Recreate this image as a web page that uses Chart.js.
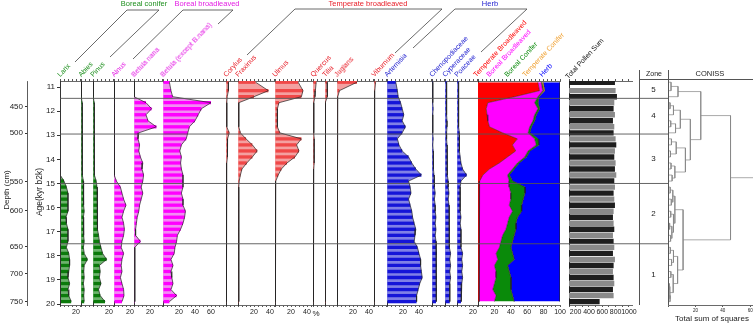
<!DOCTYPE html>
<html lang="en">
<head>
<meta charset="UTF-8">
<title>Pollen diagram</title>
<script src="https://cdn.jsdelivr.net/npm/chart.js"></script>
<style>
  body { margin: 0; background: #fff; }
  #page { position: relative; width: 753px; height: 326px; overflow: hidden; font-family: 'Liberation Sans', Arial, sans-serif; color: #222; }
  #page canvas { position: absolute; }
  .lbl { position: absolute; white-space: nowrap; font-size: 7px; line-height: 7px; transform-origin: 0 100%; transform: rotate(-47deg); }
  .hdr { position: absolute; top: 0; white-space: nowrap; font-size: 7.5px; line-height: 8px; transform: translateX(-50%); }
  .txt { position: absolute; white-space: nowrap; transform: translate(-50%, -50%); }
  .vt { position: absolute; white-space: nowrap; transform: translate(-50%, -50%) rotate(-90deg); }
  .rule { position: absolute; background: #555; }
  svg { position: absolute; left: 0; top: 0; }
</style>
</head>
<body>
<div id="page">
  <svg width="753" height="90">
    <g fill="none" stroke="#444" stroke-width="0.8">
      <polyline points="75,62 127,10 159,10 110,57"/>
      <polyline points="133,59 183,10 233,10 218,24"/>
      <polyline points="247,55 295,9 442,9 395,53"/>
      <polyline points="413,48 455,9 527,9 481,52"/>
    </g>
  </svg>
</div>

<script>
// sample ages (kyr b2k), one row per sample
const ages = [10.8, 11.15, 11.4, 11.65, 11.9, 12.15, 12.4, 12.65, 12.9,
  13.15, 13.4, 13.65, 13.9, 14.15, 14.4, 14.65, 14.9, 15.15,
  15.4, 15.65, 15.9, 16.15, 16.4, 16.65, 16.9, 17.15, 17.4,
  17.65, 17.9, 18.15, 18.4, 18.65, 18.9, 19.15, 19.4, 19.65,
  19.9];

// taxa percentages
const larix = [0,0,0,0.3,0.3,0.3,0.3,0.3,0.3, 0.3,0.3,0.3,0.3,0.3,0.3,0.3,5,8, 10,10,10,10,7.5,8,10,10,10, 8,11,12,12,11,10,12,10,11, 14];
const abies = [0,0,0.5,1.5,1.5,2,1.5,1.5,2, 1.5,1.5,1.5,2,1.5,1.5,2,3,3.5, 3,3.5,3,4,3,3.5,3,3.5,4, 3,4,8,4,3.5,4,3,4,3.5, 4];
const pinus = [0,0,0.5,1.5,2,1.5,2,1.5,2, 1.5,2,1.5,2,2,1.5,2,4,5, 6,5,6,5,6,5,6,7,8, 10,12,17,8,9,8,10,7,9, 15];
const alnus = [0,0,0,0.3,0.3,0.3,0.3,0.3,0.3, 0.3,0.3,0.3,0.3,0.3,0.3,0.3,3,8, 10,12,15,12,10,12,13,12,10, 9,12,10,9,10,8,10,12,12.5, 10];
const betulaNana = [0,0,0,15,22,15,17.5,28,6, 5,7,6,8,11,10,12,11,9, 11,9,7,6,4,3,2,2,8, 1,1,1,1,1,1,1,1,1, 1];
const betula = [8,10,12,60,48,44,40,33,31, 29,23,21,23,22,23,25,25,25, 23,25,25,28,27,25,22,18,17, 15,14,10,12.5,10,11,12.5,10,17, 8];
const corylus = [3,3,1.5,1,1,1,1,1,4, 2,2,2,1.5,1,0.8,0.8,0.5,0.5, 0.5,0.5,0.5,0.5,0.5,0.5,0.5,0.5,0.5, 0.5,0.5,0.5,0.5,0.5,0.5,0.5,0.5,0.5, 0.5];
const fraxinus = [22,38,20,1,1,1,1,1,3, 10,18,24,18,11,5,3,1.5,1, 1,1,1,1,1,1,1,1,1, 1,1,1,1,1,1,1,1,1, 1];
const ulmus = [29,35,33,5,3,3,3,3,6, 33,27,30,25,15,8,4,1,0.5, 0.5,0.5,0.5,0.5,0.5,0.5,0.5,0.5,0.5, 0.5,0.5,0.5,0.5,0.5,0.5,0.5,0.5,0.5, 0.5];
const quercus = [4,3,2.5,1,1,1,1,1,1, 1.5,1.5,1.5,1.5,1.5,1,1,0.5,0.5, 0.5,0.5,0.5,0.5,0.5,0.5,0.5,0.5,0.5, 0.5,0.5,0.5,0.5,0.5,0.5,0.5,0.5,0.5, 0.5];
const tilia = [2.5,3.5,2.5,0.3,0.3,0.3,0.3,0.3,0.3, 0.3,0.3,0.3,0.3,0.3,0.3,0.3,0.3,0.3, 0.3,0.3,0.3,0.3,0.3,0.3,0.3,0.3,0.3, 0.3,0.3,0.3,0.3,0.3,0.3,0.3,0.3,0.3, 0.3];
const juglans = [25,3,1,0,0,0,0,0,0, 0.5,0.5,0.5,0.3,0,0,0,0,0, 0,0,0,0,0,0,0,0,0, 0,0,0,0,0,0,0,0,0, 0];
const viburnum = [2,1,1,0.5,0.5,0.5,0.5,0.5,0.5, 0.5,0.5,0.5,0.5,0.5,0.5,0.5,0.5,0.5, 0.5,0.5,0.5,0.5,0.5,0.5,0.5,0.5,0.5, 0.5,0.5,0.5,0.5,0.5,0.5,0.5,0.5,0.5, 0.5];
const artemisia = [11,13,14,17,19,21,19,23,19, 13,15,19,27,31,36,43,27,29, 30,27,29,31,32,34,36,35,34, 38,40,42,42,43,44,41,39,37, 37];
const chenopodiaceae = [1,1,1,1,1.5,1,1,1,1, 1.5,1,1.5,1.5,2,2,2.5,3,3, 4,3,4,4,5,4,5,4,5, 5,6,5,6,5,6,5,6,5, 5];
const cyperaceae = [2,2,2,2,2,2,2.5,2.5,2, 2,2.5,2.5,3,3,3,3,4,4, 5,4,5,5,5,5,6,5,6, 6,7,6,7,6,7,6,6,6, 6];
const poaceae = [2,2,2,2,2,2,2,2,3, 3,3,3,4,5,7,12,5,4, 4,4,4,4,5,4,5,5,5, 5,7,6,7,6,7,6,6,5, 5];

// ecological groups (sum to 100)
const tempBroad = [73,75,45,12,10,11,12,14,30, 48,42,46,36,26,14,6,2,1.5, 1.5,1.5,1.5,1.5,1.5,1.5,1.5,1.5,1.5, 1.5,1.5,1.5,1.5,1.5,1.5,1.5,1.5,1.5, 1.5];
const borealBroad = [4,4,28,57,63,58,55,49,31, 21,29,15,21,22,28,30,36,36.5, 38.5,38.5,36.5,40.5,36.5,34.5,32.5,28.5,26.5, 24.5,20.5,22.5,18.5,20.5,20.5,18.5,16.5,20.5, 18.5];
const borealConifer = [1,1,1,4,2,2,2,2,2, 4,3,2,2,2,2,2,4,19, 17,15,15,11,10,10,12,14,14, 14,20,20,16,16,18,20,22,20, 24];
const tempConifer = [1.5,1.5,0.5,0.3,0.3,0.3,0.3,0.3,0.3, 0.3,0.3,0.3,0.3,0.3,0.3,0.3,0.3,0.3, 0.3,0.3,0.3,0.3,0.3,0.3,0.3,0.3,0.3, 0.3,0.3,0.3,0.3,0.3,0.3,0.3,0.3,0.3, 0.3];
const herb = [20.5,18.5,25.5,26.7,24.7,28.7,30.7,34.7,36.7, 26.7,25.7,36.7,40.7,49.7,55.7,61.7,57.7,42.7, 42.7,44.7,46.7,46.7,51.7,53.7,53.7,55.7,57.7, 59.7,57.7,55.7,63.7,61.7,59.7,59.7,59.7,57.7, 55.7];

const pollenSum = [790,800,820,780,770,790,760,780,770, 800,810,790,780,800,790,810,780,790, 770,780,790,770,760,770,780,760,770, 780,760,790,770,760,770,780,760,770, 560];

// axes
const ageTicks = [11, 12, 13, 14, 15, 16, 17, 18, 19, 20];
const depthLabels = [450, 500, 550, 600, 650, 700, 750];
const depthAges = [11.82, 12.91, 14.92, 16.13, 17.63, 18.75, 19.91];
const zoneBounds = [11.47, 12.95, 15.0, 17.5];
const zoneNames = ['5', '4', '3', '2', '1'];

// CONISS tree: [height, left, right], leaves are sample indices
const coniss = [45.6,
  [23.9, [7.3, [2.2, 0, 1], 2],
    [16.3, [9, [4, [1.5, 3, 4], 5], [5.5, [2, 6, 7], 8]],
      [12.7, [6, [2.5, 9, 10], [1.8, 11, 12]], [5, [2.2, 13, 14], [3, 15, 16]]]]],
  [11, [5, [3.5, [1.6, 17, 18], [2.4, 19, 20]], [4, [2, 21, 22], [2.8, [1.2, 23, 24], [1.9, 25, 26]]]],
    [7, [4, [1.7, 27, 28], [2.6, 29, 30]], [3.8, [2.1, 31, 32], [1.4, [1, 33, 34], [1.5, 35, 36]]]]]];

const AGE_MIN = 10.75, AGE_MAX = 20.04;
const TOP = 75, H = 250;
const PX_PER_PCT = 0.8;

const palette = {
  green:   { light: '#6db36d', strong: '#0b7a0b', text: '#1d8f1d' },
  magenta: { light: '#f28cf2', strong: '#ff00ff', text: '#e41ee4' },
  red:     { light: '#f4a0a0', strong: '#f04848', text: '#e8202a' },
  blue:    { light: '#8080e6', strong: '#1515d8', text: '#2323d0' }
};

const panels = [
  { label: 'Larix', values: larix, x: 60, w: 21, col: 'green' },
  { label: 'Abies', values: abies, x: 81, w: 12, col: 'green' },
  { label: 'Pinus', values: pinus, x: 93, w: 21, col: 'green' },
  { label: 'Alnus', values: alnus, x: 114, w: 20, col: 'magenta' },
  { label: 'Betula nana', values: betulaNana, x: 134, w: 29, col: 'magenta' },
  { label: 'Betula (except B.nana)', values: betula, x: 163, w: 63, col: 'magenta' },
  { label: 'Corylus', values: corylus, x: 226, w: 12, col: 'red' },
  { label: 'Fraxinus', values: fraxinus, x: 238, w: 37, col: 'red' },
  { label: 'Ulmus', values: ulmus, x: 275, w: 38, col: 'red' },
  { label: 'Quercus', values: quercus, x: 313, w: 12, col: 'red' },
  { label: 'Tilia', values: tilia, x: 325, w: 12, col: 'red' },
  { label: 'Juglans', values: juglans, x: 337, w: 37, col: 'red' },
  { label: 'Viburnum', values: viburnum, x: 374, w: 13, col: 'red' },
  { label: 'Artemisia', values: artemisia, x: 387, w: 45, col: 'blue' },
  { label: 'Chenopodiaceae', values: chenopodiaceae, x: 432, w: 13, col: 'blue' },
  { label: 'Cyperaceae', values: cyperaceae, x: 445, w: 12, col: 'blue' },
  { label: 'Poaceae', values: poaceae, x: 457, w: 21, col: 'blue' }
];

const groups = [
  { label: 'Temperate Broadleaved', values: tempBroad, color: '#ff0000', x: 477 },
  { label: 'Boreal Broadleaved', values: borealBroad, color: '#ff00ff', x: 490 },
  { label: 'Boreal Conifer', values: borealConifer, color: '#0a8a0a', x: 508 },
  { label: 'Temperate Conifer', values: tempConifer, color: '#ffa500', x: 526 },
  { label: 'Herb', values: herb, color: '#0000ff', x: 543 }
];

Chart.defaults.font.family = "'Liberation Sans', Arial, sans-serif";
Chart.defaults.font.size = 7;
Chart.defaults.color = '#222';
Chart.defaults.animation = false;
Chart.defaults.responsive = false;
Chart.defaults.events = [];
Chart.defaults.plugins.legend.display = false;
Chart.defaults.plugins.tooltip.enabled = false;

const page = document.getElementById('page');

function canvasAt(x, y, w, h) {
  const c = document.createElement('canvas');
  c.width = w; c.height = h;
  c.style.left = x + 'px'; c.style.top = y + 'px';
  page.appendChild(c);
  return c;
}

function addDiv(cls, text, css) {
  const d = document.createElement('div');
  d.className = cls;
  d.textContent = text;
  Object.assign(d.style, css);
  page.appendChild(d);
}

function pts(values) {
  return values.map((v, i) => ({ x: v, y: ages[i] }));
}

// hidden age axis that only draws the panel's zero line
function baseAxis() {
  return {
    type: 'linear', reverse: true, min: AGE_MIN, max: AGE_MAX, position: 'left', z: 1, offset: false,
    ticks: { display: false },
    grid: { drawOnChartArea: false, drawTicks: false, offset: false },
    border: { color: '#333', width: 1 },
    afterFit: s => { s.width = 0; s.paddingTop = 0; s.paddingBottom = 0; }
  };
}

function valueAxes(min, max, minor, major) {
  return {
    x: {
      type: 'linear', position: 'bottom', min, max,
      ticks: { stepSize: minor, includeBounds: false, autoSkip: false, maxRotation: 0, padding: 1,
               callback: v => (v > 0 && v % major === 0) ? v : '' },
      grid: { drawOnChartArea: false, tickLength: 2, color: '#555' },
      border: { color: '#444', width: 0.8 },
      afterFit: s => { s.height = 20; s.paddingLeft = 0; s.paddingRight = 0; }
    },
    x2: {
      type: 'linear', position: 'top', min, max,
      ticks: { display: false, stepSize: minor, includeBounds: false },
      grid: { drawOnChartArea: false, tickLength: 2, color: '#555' },
      border: { color: '#444', width: 0.8 },
      afterFit: s => { s.height = 6; s.paddingLeft = 0; s.paddingRight = 0; }
    },
    y: baseAxis()
  };
}

// taxon panels
panels.forEach(p => {
  const c = palette[p.col];
  const data = pts(p.values);
  new Chart(canvasAt(p.x, TOP, p.w, H), {
    type: 'bar',
    data: {
      datasets: [
        { type: 'line', data, fill: 'origin', backgroundColor: c.light, borderColor: '#222',
          borderWidth: 0.7, pointRadius: 0, order: 1 },
        { type: 'bar', data, backgroundColor: c.strong, barPercentage: 0.55, categoryPercentage: 1, order: 2 }
      ]
    },
    options: {
      indexAxis: 'y',
      layout: { padding: 0 },
      plugins: { filler: { drawTime: 'beforeDatasetsDraw' } },
      scales: valueAxes(0, p.w / PX_PER_PCT, 5, 20)
    }
  });
  addDiv('lbl', p.label, { left: (p.x + 1) + 'px', top: '71px', color: c.text });
});

// summary stacked groups
(function () {
  const scales = valueAxes(0, 100, 5, 20);
  scales.x.stacked = true;
  new Chart(canvasAt(478, TOP, 92, H), {
    type: 'line',
    data: {
      datasets: groups.map((g, i) => ({
        data: pts(g.values), fill: i === 0 ? 'origin' : '-1', backgroundColor: g.color,
        borderColor: '#222', borderWidth: 0.5, pointRadius: 0
      }))
    },
    options: { indexAxis: 'y', layout: { padding: { right: 10 } }, scales }
  });
  groups.forEach(g => addDiv('lbl', g.label, { left: g.x + 'px', top: '71px', color: g.color === '#ffa500' ? '#f0a030' : g.color }));
})();

// total pollen sum
new Chart(canvasAt(569, TOP, 71, H), {
  type: 'bar',
  data: {
    datasets: [{
      data: pts(pollenSum),
      backgroundColor: pollenSum.map((v, i) => i % 2 ? '#8a8a8a' : '#1e1e1e'),
      barPercentage: 0.9, categoryPercentage: 1
    }]
  },
  options: { indexAxis: 'y', layout: { padding: { right: 8 } }, scales: valueAxes(100, 1046, 100, 200) }
});
addDiv('lbl', 'Total Pollen Sum', { left: '569px', top: '73px', color: '#111' });

// depth axis
new Chart(canvasAt(0, TOP, 32, H), {
  type: 'line',
  data: { datasets: [] },
  options: {
    layout: { padding: { top: 6, bottom: 20 } },
    scales: {
      x: { type: 'linear', display: false, min: 0, max: 1 },
      y: {
        type: 'linear', reverse: true, min: AGE_MIN, max: AGE_MAX, position: 'left',
        afterBuildTicks: s => { s.ticks = depthAges.map(v => ({ value: v })); },
        ticks: { autoSkip: false, padding: 2, font: { size: 8 }, callback: (v, i) => depthLabels[i] },
        grid: { drawOnChartArea: false, tickLength: 2, color: '#333' },
        border: { color: '#333', width: 0.8 },
        afterFit: s => { s.width = 27; s.paddingTop = 0; s.paddingBottom = 0; }
      }
    }
  }
});

// age axis
new Chart(canvasAt(30, TOP, 32, H), {
  type: 'line',
  data: { datasets: [] },
  options: {
    layout: { padding: { top: 6, bottom: 20 } },
    scales: {
      x: { type: 'linear', display: false, min: 0, max: 1 },
      y: {
        type: 'linear', reverse: true, min: AGE_MIN, max: AGE_MAX, position: 'left',
        afterBuildTicks: s => { s.ticks = ageTicks.map(v => ({ value: v })); },
        ticks: { autoSkip: false, padding: 2, font: { size: 8 } },
        grid: { drawOnChartArea: false, tickLength: 3, color: '#333' },
        border: { color: '#333', width: 1 },
        afterFit: s => { s.width = 30; s.paddingTop = 0; s.paddingBottom = 0; }
      }
    }
  }
});

// zone boundaries across the diagram
new Chart(canvasAt(60, 81, 608, 224), {
  type: 'line',
  data: {
    datasets: zoneBounds.map(b => ({
      data: [{ x: 0, y: b }, { x: 1, y: b }], borderColor: '#555', borderWidth: 0.9, pointRadius: 0
    }))
  },
  options: {
    layout: { padding: 0 },
    scales: {
      x: { type: 'linear', display: false, min: 0, max: 1 },
      y: { type: 'linear', display: false, reverse: true, min: AGE_MIN, max: AGE_MAX }
    }
  }
});

// zone numbers
new Chart(canvasAt(639, 81, 29, 224), {
  type: 'line',
  data: { datasets: [] },
  options: {
    layout: { padding: 0 },
    scales: {
      x: { type: 'linear', display: false, min: 0, max: 1 },
      y: { type: 'linear', display: false, reverse: true, min: AGE_MIN, max: AGE_MAX }
    }
  },
  plugins: [{
    id: 'zoneNames',
    afterDraw(chart) {
      const { ctx, chartArea, scales: { y } } = chart;
      const edges = [AGE_MIN, ...zoneBounds, AGE_MAX];
      ctx.save();
      ctx.font = "8px 'Liberation Sans', Arial, sans-serif";
      ctx.fillStyle = '#222';
      ctx.textAlign = 'center';
      ctx.textBaseline = 'middle';
      zoneNames.forEach((z, i) => {
        ctx.fillText(z, (chartArea.left + chartArea.right) / 2, y.getPixelForValue((edges[i] + edges[i + 1]) / 2));
      });
      ctx.restore();
    }
  }]
});

// CONISS dendrogram
(function () {
  const segs = [];
  function walk(node) {
    if (typeof node === 'number') return { h: 0, pos: ages[node] };
    const l = walk(node[1]), r = walk(node[2]), h = node[0];
    segs.push([{ x: l.h, y: l.pos }, { x: h, y: l.pos }, { x: h, y: r.pos }, { x: r.h, y: r.pos }]);
    return { h, pos: (l.pos + r.pos) / 2 };
  }
  const root = walk(coniss);
  segs.push([{ x: root.h, y: root.pos }, { x: 62, y: root.pos }]);
  const scales = valueAxes(0, 62, 20, 20);
  scales.x.ticks.font = { size: 4.5 };
  delete scales.x2;
  scales.y = { type: 'linear', display: false, reverse: true, min: AGE_MIN, max: AGE_MAX };
  new Chart(canvasAt(668, TOP, 85, H), {
    type: 'line',
    data: {
      datasets: segs.map(s => ({ data: s, borderColor: '#858585', borderWidth: 0.7, pointRadius: 0 }))
    },
    options: { layout: { padding: { top: 6 } }, scales }
  });
})();

// group headers
addDiv('hdr', 'Boreal conifer', { left: '144px', color: palette.green.text });
addDiv('hdr', 'Boreal broadleaved', { left: '207px', color: palette.magenta.text });
addDiv('hdr', 'Temperate broadleaved', { left: '368px', color: palette.red.text });
addDiv('hdr', 'Herb', { left: '490px', color: palette.blue.text });

// titles
addDiv('vt', 'Depth (cm)', { left: '6px', top: '190px', fontSize: '8px' });
addDiv('vt', 'Age(kyr b2k)', { left: '39px', top: '192px', fontSize: '8.5px' });
addDiv('txt', '%', { left: '316px', top: '313px', fontSize: '8px' });
addDiv('txt', 'Zone', { left: '654px', top: '73px', fontSize: '7px' });
addDiv('txt', 'CONISS', { left: '710px', top: '73px', fontSize: '7.5px' });
addDiv('txt', 'Total sum of squares', { left: '712px', top: '318px', fontSize: '8px' });

// zone column frame
addDiv('rule', '', { left: '639px', top: '70px', width: '0.8px', height: '235px' });
addDiv('rule', '', { left: '667.5px', top: '70px', width: '0.8px', height: '235px' });
addDiv('rule', '', { left: '639px', top: '79px', width: '114px', height: '0.8px' });
</script>
</body>
</html>
